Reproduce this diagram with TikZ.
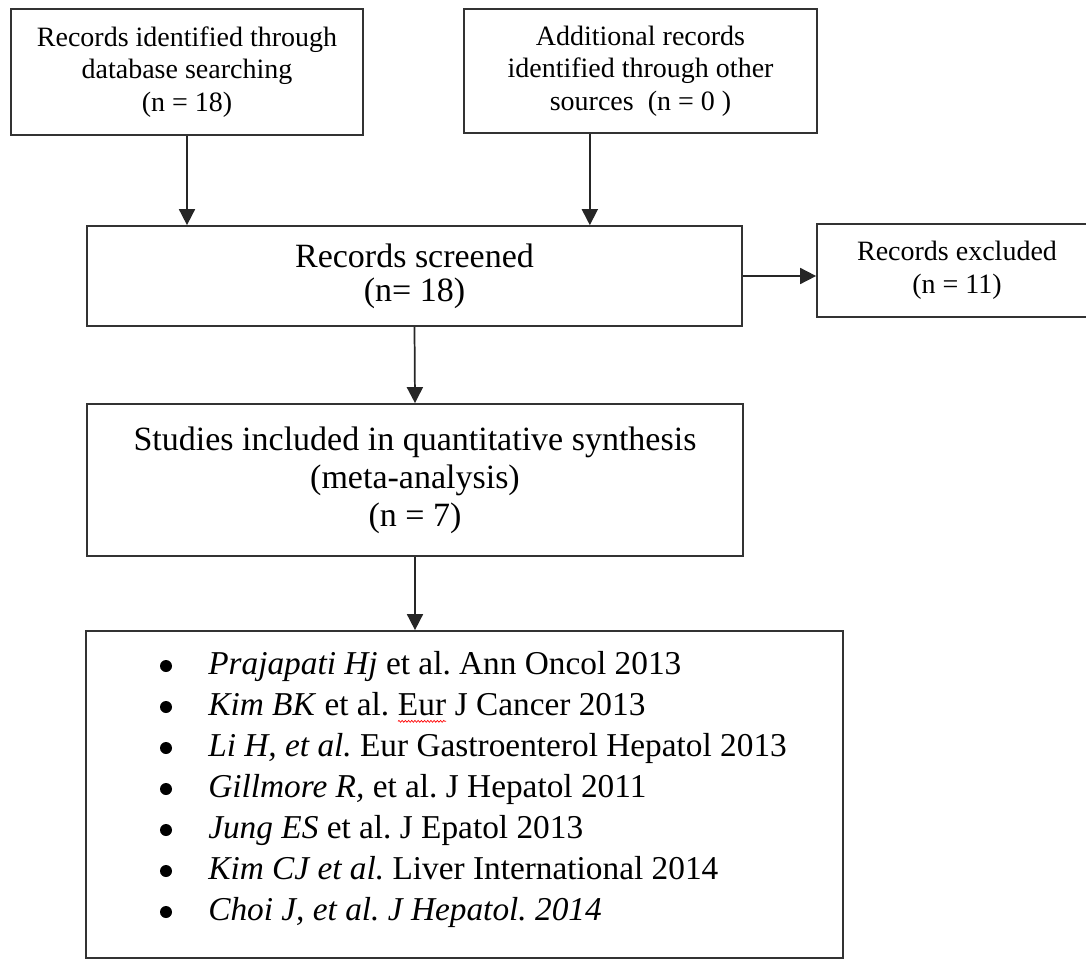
\documentclass[tikz,border=0pt]{standalone}
\usepackage{fontspec}
\setmainfont{Liberation Serif}
\usetikzlibrary{arrows.meta,decorations.pathmorphing}
\frenchspacing
\newcommand{\spellwave}[1]{\tikz[baseline=(w.base)]{\node[inner xsep=0pt, inner ysep=4.5pt, outer sep=0pt] (w) {#1};
  \draw[red, line width=0.5pt, decorate, decoration={snake, amplitude=0.7pt, segment length=2.4pt}] (w.south west) -- (w.south east);}}
\begin{document}
\begin{tikzpicture}[x=0.75pt,y=0.75pt,yscale=-1,xscale=1,
  box/.style={draw=black!80, line width=1.3pt, inner sep=0pt, align=center},
  link/.style={draw=black!85, line width=1.3pt, -{Triangle[length=12pt,width=12pt]}},
  small/.style={font=\fontsize{21}{24.5}\selectfont},
  big/.style={font=\fontsize{25.5}{25.5}\selectfont},
  ref/.style={anchor=base west, inner sep=0pt, font=\fontsize{25}{29}\selectfont}]
\useasboundingbox (0,0) rectangle (1086,960);
\clip (0,0) rectangle (1086,960);

% Identification
\node[box, small, minimum width=264pt, minimum height=94.5pt] (ident) at (187,72) {Records identified through\\database searching\\(n = 18)};
\node[box, small, minimum width=264.75pt, minimum height=93pt] (other) at (640.5,71) {Additional records\\identified through other\\sources~~(n = 0~)};

% Screening
\node[box, big, minimum width=491.25pt, minimum height=75pt] (screen) at (414.5,276) {Records screened\\(n= 18)};
\node[box, small, minimum width=210pt, minimum height=69.75pt] (excl) at (957,270.5) {Records excluded\\(n = 11)};

% Included
\node[box, font=\fontsize{25.5}{28.5}\selectfont, minimum width=492pt, minimum height=114pt] (incl) at (415,480) {Studies included in quantitative synthesis\\(meta-analysis)\\(n = 7)};
\node[box, minimum width=567.75pt, minimum height=245.25pt] (list) at (464.5,794.5) {};
\foreach \txt [count=\i] in {
  {\textit{Prajapati Hj} et al. Ann Oncol 2013},
  {\textit{Kim BK} et al. \spellwave{Eur} J Cancer 2013},
  {\textit{Li H, et al.} Eur Gastroenterol Hepatol 2013},
  {\textit{Gillmore R,} et al. J Hepatol 2011},
  {\textit{Jung ES} et al. J Epatol 2013},
  {\textit{Kim CJ et al.} Liver International 2014},
  {\textit{Choi J, et al. J Hepatol. 2014}}}
  {
  \fill (166,625+41*\i) circle[radius=6];
  \node[ref] (ref\i) at (208,633+41*\i) {\txt};
  }

% Arrows
\draw[link] (ident.south) -- (ident.south |- screen.north);
\draw[link] ([xshift=-38pt]other.south) -- ([xshift=-38pt]other.south |- screen.north);
\draw[link] (screen.east) -- (screen.east -| excl.west);
\draw[link] (screen.south) -- (incl.north);
\draw[link] (incl.south) -- (incl.south |- list.north);
\end{tikzpicture}
\end{document}
